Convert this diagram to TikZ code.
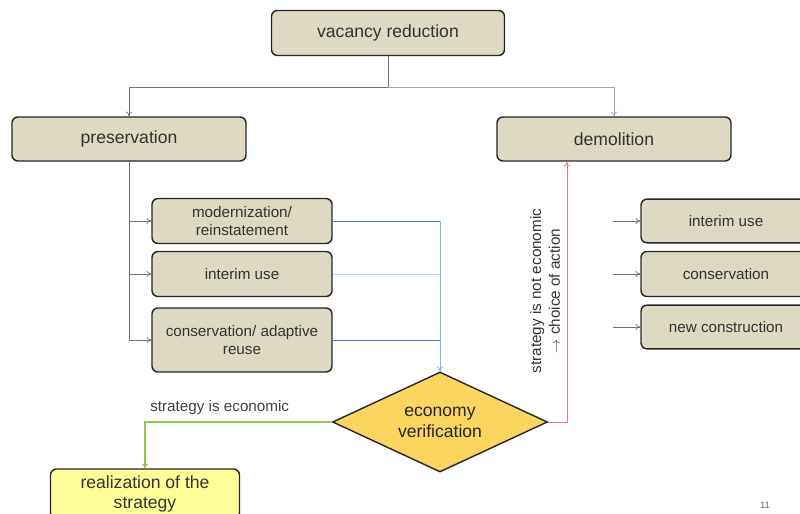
\documentclass[tikz,border=0pt]{standalone}
\usepackage{fontspec}
\setmainfont{Liberation Sans}
\usetikzlibrary{shapes.geometric,arrows.meta,calc}
\definecolor{boxtan}{RGB}{221,217,195}
\definecolor{decision}{RGB}{252,212,96}
\definecolor{realize}{RGB}{255,255,153}
\definecolor{yesgreen}{RGB}{146,200,70}
\definecolor{nored}{RGB}{240,120,130}
\definecolor{flowblue}{RGB}{60,130,190}
\definecolor{flowcyan}{RGB}{110,190,235}
\tikzstyle{box}=[draw=black!85, line width=1.2pt, rounded corners=0.18cm, fill=boxtan, align=center, text=black!80, inner sep=2pt]
\tikzstyle{bigbox}=[box, minimum width=7.02cm, minimum height=1.32cm, font=\fontsize{15}{17}\selectfont]
\tikzstyle{smallbox}=[box, minimum width=5.4cm, minimum height=1.35cm, font=\fontsize{13}{15}\selectfont]
\tikzstyle{sidebox}=[box, minimum width=5.1cm, minimum height=1.31cm, font=\fontsize{13}{15}\selectfont]
\tikzstyle{conn}=[draw=black!55, line width=0.6pt, -{To[length=4pt,width=5pt]}]

\begin{document}
\begin{tikzpicture}[x=0.03cm, y=-0.03cm]
    \useasboundingbox (0,0) rectangle (800,514);
% Boxes
    \node[bigbox, minimum width=6.99cm, minimum height=1.35cm] (vac) at (388,33) {vacancy reduction};
    \node[bigbox] (pres) at (129,139) {preservation};
    \node[bigbox] (dem) at (614,139) {demolition};
    \node[smallbox] (mod) at (242,221) {modernization/\\reinstatement};
    \node[smallbox] (interim) at (242,274) {interim use};
    \node[smallbox, minimum height=1.92cm] (adapt) at (242,340) {conservation/ adaptive\\reuse};
    \node[sidebox] (sideint) at (726,221) {interim use};
    \node[sidebox, minimum height=1.35cm] (sidecons) at (726,274) {conservation};
    \node[sidebox] (sidenew) at (726,327) {new construction};
    \node[diamond, draw=black!85, line width=1.2pt, fill=decision, aspect=2.13,
          minimum width=6.45cm, minimum height=3cm, inner sep=0pt, align=center,
          text=black!85, font=\fontsize{15}{18}\selectfont] (eco) at (440,422) {economy\\verification};
    \node[box, fill=realize, minimum width=5.67cm, minimum height=1.5cm,
          font=\fontsize{15}{17}\selectfont] (real) at (145,494) {realization of the\\strategy};
% Tree
    \coordinate (split) at (388,87);
    \draw[draw=black!55, line width=0.6pt] (vac) -- (split);
    \draw[conn] (split) -| (pres);
    \draw[conn, draw=black!35] (split) -| (dem);
    \draw[conn] (pres.south) |- (mod);
    \draw[conn] (pres.south) |- (interim);
    \draw[conn] (pres.south) |- (adapt);
    \draw[conn] ([xshift=-0.81cm]sideint.west) -- (sideint);
    \draw[conn] ([xshift=-0.81cm]sidecons.west) -- (sidecons);
    \draw[conn] ([xshift=-0.81cm]sidenew.west) -- (sidenew);
% To the verification
    \draw[flowcyan!60, line width=0.6pt] (interim) -| (eco.north);
    \draw[flowblue, line width=0.7pt] (mod) -| (eco.north);
    \draw[flowblue, line width=0.7pt] (adapt) -| (eco.north);
    \draw[flowcyan, line width=0.7pt, -{To[length=4pt,width=5pt]}] (440,221) -- (eco.north);
% Outcomes
    \draw[yesgreen, line width=1.1pt, -{To[length=4pt,width=5pt]}] (eco.west) -| (real.north)
        node[pos=0.3, above=2pt, text=black!75, font=\fontsize{13}{15}\selectfont] (yeslbl) {strategy is economic};
    \draw[nored, line width=0.7pt, -{To[length=4pt,width=5pt]}] (eco.east) -| ($(dem.south west)!0.3!(dem.south east)$);
    \node[rotate=90, align=center, text=black!80, font=\fontsize{13}{16}\selectfont] (nolbl) at (545,291)
        {strategy is not economic\\$\rightarrow$ choice of action};
    \node[text=black!60, font=\fontsize{8}{9}\selectfont] (pagenum) at (765,505) {11};
\end{tikzpicture}
\end{document}
